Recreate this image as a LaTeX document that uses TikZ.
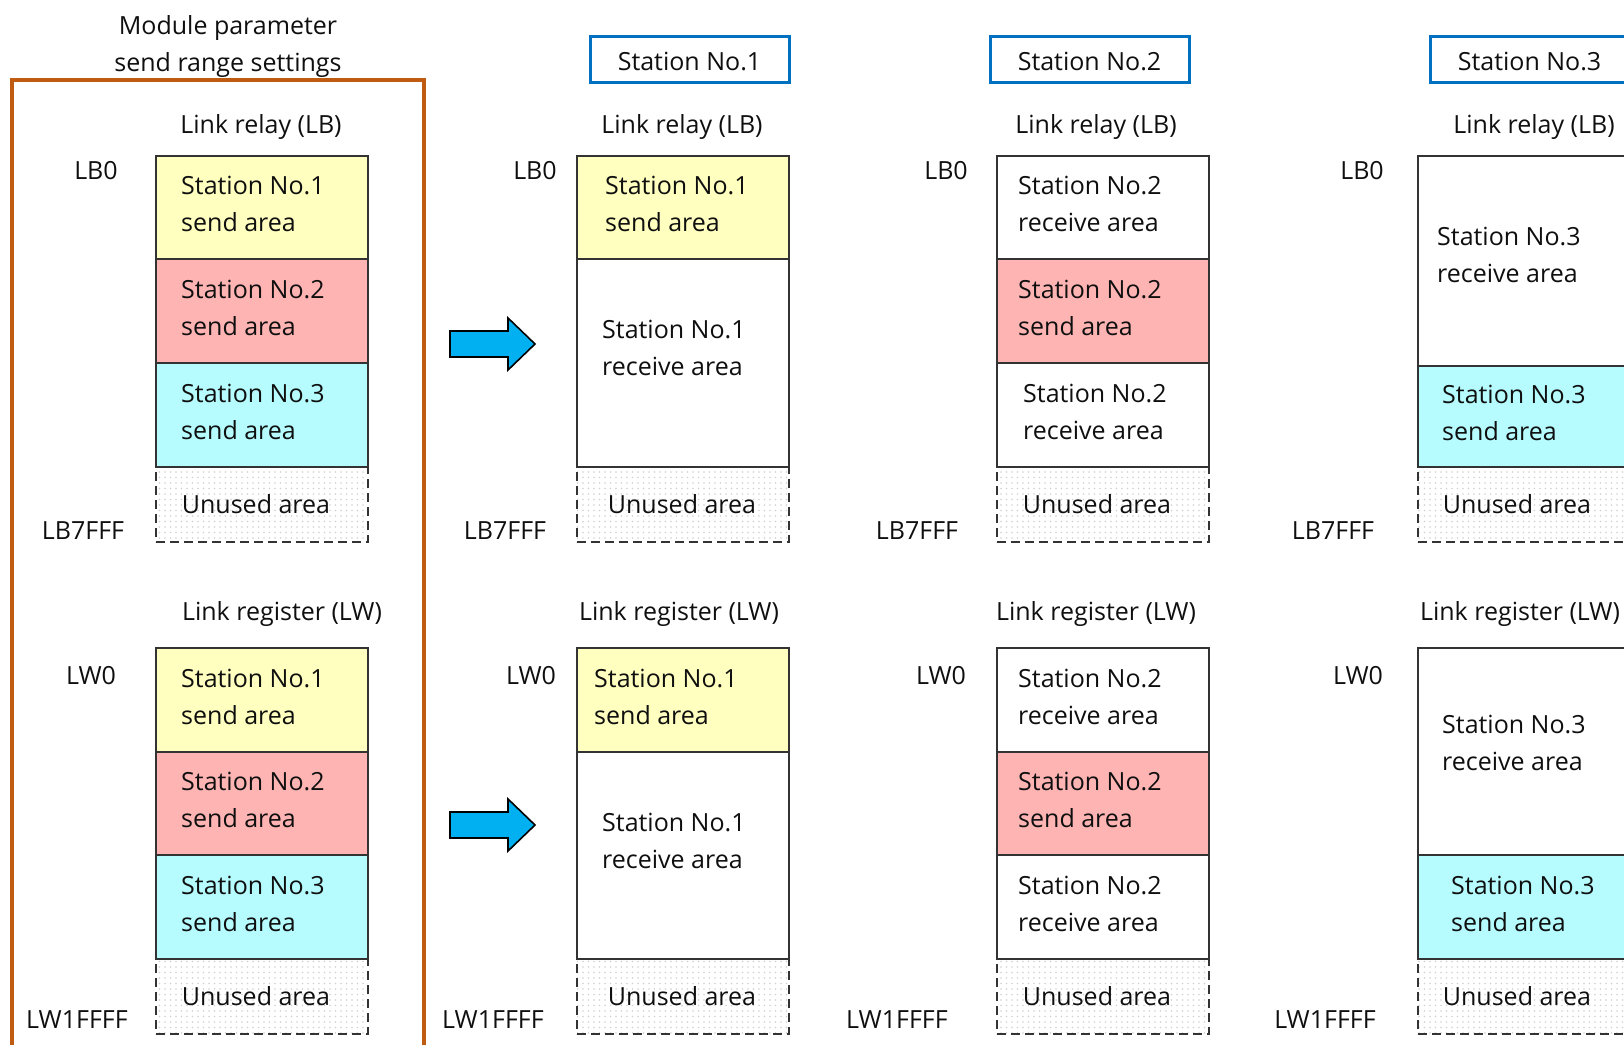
\documentclass[tikz,border=0pt]{standalone}
\usepackage{fontspec}
\setmainfont{Open Sans}
\usetikzlibrary{patterns}
\pgfdeclarepatternformonly{bigdots}{\pgfqpoint{-1pt}{-1pt}}{\pgfqpoint{1pt}{1pt}}{\pgfqpoint{5.5pt}{5.5pt}}{\pgfpathcircle{\pgfqpoint{0pt}{0pt}}{0.9pt}\pgfusepath{fill}}
\definecolor{ylw}{RGB}{255,255,192}
\definecolor{pnk}{RGB}{255,180,180}
\definecolor{cyn}{RGB}{182,252,255}
\definecolor{frm}{RGB}{192,92,18}
\definecolor{hdr}{RGB}{0,112,192}
\definecolor{arw}{RGB}{0,176,240}
\definecolor{txt}{RGB}{15,15,15}
\newcommand\bxfont{\fontsize{25}{37}\selectfont}
\newcommand\hdrtext[1]{\raisebox{-2.5pt}{#1}}
\begin{document}
\begin{tikzpicture}[x=1pt,y=-1pt,
  area/.style={draw=black!80, line width=1.6pt, anchor=north west, minimum width=212pt, inner sep=0pt},
  unused/.style={draw=black!80, line width=2pt, dash pattern=on 9pt off 5pt, pattern=bigdots, pattern color=black!18, anchor=north west, minimum width=212pt, minimum height=75pt, inner sep=0pt},
  h1/.style={minimum height=103pt},
  h2/.style={minimum height=104pt},
  tx/.style={anchor=west, align=left, font=\bxfont, text=txt, inner sep=0pt, yshift=3pt},
  lbl/.style={font=\bxfont, text=txt, inner sep=0pt, align=center},
  sec/.style={lbl, yshift=-3pt},
  hdrbox/.style={draw=hdr, line width=3pt, minimum width=199pt, minimum height=46pt, font=\bxfont, text=txt, inner sep=0pt, text height=17.5pt, text depth=0pt},
  blockarrow/.style={fill=arw, draw=black, line width=1.6pt, line join=miter}
]
\useasboundingbox (0,0) rectangle (1624,1044);

% ---------- titles ----------
\node[sec] (title) at (228,44) {Module parameter\\send range settings};
\draw[frm, line width=3.5pt] (12,1070) -- (12,80) -- (424,80) -- (424,1070);

\node[hdrbox] (hs1) at (689.5,59) {\hdrtext{Station No.1}};
\node[hdrbox] (hs2) at (1089.5,59) {\hdrtext{Station No.2}};
\node[hdrbox] (hs3) at (1529.5,59) {\hdrtext{Station No.3}};

% ---------- section labels ----------
\node[sec] (lr1) at (261,124) {Link relay (LB)};
\node[sec] (lr2) at (682,124) {Link relay (LB)};
\node[sec] (lr3) at (1096,124) {Link relay (LB)};
\node[sec] (lr4) at (1534,124) {Link relay (LB)};
\node[sec] (lw1) at (282,611) {Link register (LW)};
\node[sec] (lw2) at (679,611) {Link register (LW)};
\node[sec] (lw3) at (1096,611) {Link register (LW)};
\node[sec] (lw4) at (1520,611) {Link register (LW)};

% ---------- address labels ----------
\node[lbl] (lb01) at (96,171) {LB0};
\node[lbl] (lb02) at (535,171) {LB0};
\node[lbl] (lb03) at (946,171) {LB0};
\node[lbl] (lb04) at (1362,171) {LB0};
\node[lbl] (lbe1) at (83,531) {LB7FFF};
\node[lbl] (lbe2) at (505,531) {LB7FFF};
\node[lbl] (lbe3) at (917,531) {LB7FFF};
\node[lbl] (lbe4) at (1333,531) {LB7FFF};
\node[lbl] (lw01) at (91,676) {LW0};
\node[lbl] (lw02) at (531,676) {LW0};
\node[lbl] (lw03) at (941,676) {LW0};
\node[lbl] (lw04) at (1358,676) {LW0};
\node[lbl] (lwe1) at (77,1020) {LW1FFFF};
\node[lbl] (lwe2) at (493,1020) {LW1FFFF};
\node[lbl] (lwe3) at (897,1020) {LW1FFFF};
\node[lbl] (lwe4) at (1325,1020) {LW1FFFF};

% ---------- column 1 : LB ----------
\node[unused] (u1b) at (155,466) {};
\node[area,h1,fill=ylw] (c1b1) at (155,155) {};
\node[area,h2,fill=pnk] (c1b2) at (155,258) {};
\node[area,h2,fill=cyn] (c1b3) at (155,362) {};
\node[tx] at ([xshift=26pt]c1b1.west) {Station No.1\\send area};
\node[tx] at ([xshift=26pt]c1b2.west) {Station No.2\\send area};
\node[tx] at ([xshift=26pt]c1b3.west) {Station No.3\\send area};
\node[lbl] at ([xshift=-6pt]u1b.center) {Unused area};
% ---------- column 1 : LW ----------
\node[unused] (u1w) at (155,958) {};
\node[area,h2,fill=ylw] (c1w1) at (155,647) {};
\node[area,h1,fill=pnk] (c1w2) at (155,751) {};
\node[area,h2,fill=cyn] (c1w3) at (155,854) {};
\node[tx] at ([xshift=26pt]c1w1.west) {Station No.1\\send area};
\node[tx] at ([xshift=26pt]c1w2.west) {Station No.2\\send area};
\node[tx] at ([xshift=26pt]c1w3.west) {Station No.3\\send area};
\node[lbl] at ([xshift=-6pt]u1w.center) {Unused area};

% ---------- column 2 ----------
\node[unused] (u2b) at (576,466) {};
\node[area,h1,fill=ylw] (c2b1) at (576,155) {};
\node[area,fill=white,minimum height=208pt] (c2b2) at (576,258) {};
\node[tx] at ([xshift=29pt]c2b1.west) {Station No.1\\send area};
\node[tx] at ([xshift=26pt,yshift=12pt]c2b2.west) {Station No.1\\receive area};
\node[lbl] at ([xshift=-1pt]u2b.center) {Unused area};
\node[unused] (u2w) at (576,958) {};
\node[area,h2,fill=ylw] (c2w1) at (576,647) {};
\node[area,fill=white,minimum height=207pt] (c2w2) at (576,751) {};
\node[tx] at ([xshift=18pt]c2w1.west) {Station No.1\\send area};
\node[tx] at ([xshift=26pt,yshift=11pt]c2w2.west) {Station No.1\\receive area};
\node[lbl] at ([xshift=-1pt]u2w.center) {Unused area};

% ---------- column 3 ----------
\node[unused] (u3b) at (996,466) {};
\node[area,h1,fill=white] (c3b1) at (996,155) {};
\node[area,h2,fill=pnk] (c3b2) at (996,258) {};
\node[area,h2,fill=white] (c3b3) at (996,362) {};
\node[tx] at ([xshift=22pt]c3b1.west) {Station No.2\\receive area};
\node[tx] at ([xshift=22pt]c3b2.west) {Station No.2\\send area};
\node[tx] at ([xshift=27pt]c3b3.west) {Station No.2\\receive area};
\node[lbl] at ([xshift=-6pt]u3b.center) {Unused area};
\node[unused] (u3w) at (996,958) {};
\node[area,h2,fill=white] (c3w1) at (996,647) {};
\node[area,h1,fill=pnk] (c3w2) at (996,751) {};
\node[area,h2,fill=white] (c3w3) at (996,854) {};
\node[tx] at ([xshift=22pt]c3w1.west) {Station No.2\\receive area};
\node[tx] at ([xshift=22pt]c3w2.west) {Station No.2\\send area};
\node[tx] at ([xshift=22pt]c3w3.west) {Station No.2\\receive area};
\node[lbl] at ([xshift=-6pt]u3w.center) {Unused area};

% ---------- column 4 ----------
\node[unused] (u4b) at (1417,466) {};
\node[area,fill=white,minimum height=210pt] (c4b1) at (1417,155) {};
\node[area,fill=cyn,minimum height=101pt] (c4b2) at (1417,365) {};
\node[tx] at ([xshift=20pt,yshift=3pt]c4b1.west) {Station No.3\\receive area};
\node[tx] at ([xshift=25pt]c4b2.west) {Station No.3\\send area};
\node[lbl] at ([xshift=-7pt]u4b.center) {Unused area};
\node[unused] (u4w) at (1417,958) {};
\node[area,fill=white,minimum height=207pt] (c4w1) at (1417,647) {};
\node[area,h2,fill=cyn] (c4w2) at (1417,854) {};
\node[tx] at ([xshift=25pt,yshift=5pt]c4w1.west) {Station No.3\\receive area};
\node[tx] at ([xshift=34pt]c4w2.west) {Station No.3\\send area};
\node[lbl] at ([xshift=-7pt]u4w.center) {Unused area};

% ---------- block arrows ----------
\draw[blockarrow] (450,331) -- (508,331) -- (508,318) -- (535,344) -- (508,370) -- (508,357) -- (450,357) -- cycle;
\draw[blockarrow] (450,812) -- (508,812) -- (508,799) -- (535,825) -- (508,851) -- (508,838) -- (450,838) -- cycle;
\end{tikzpicture}
\end{document}
